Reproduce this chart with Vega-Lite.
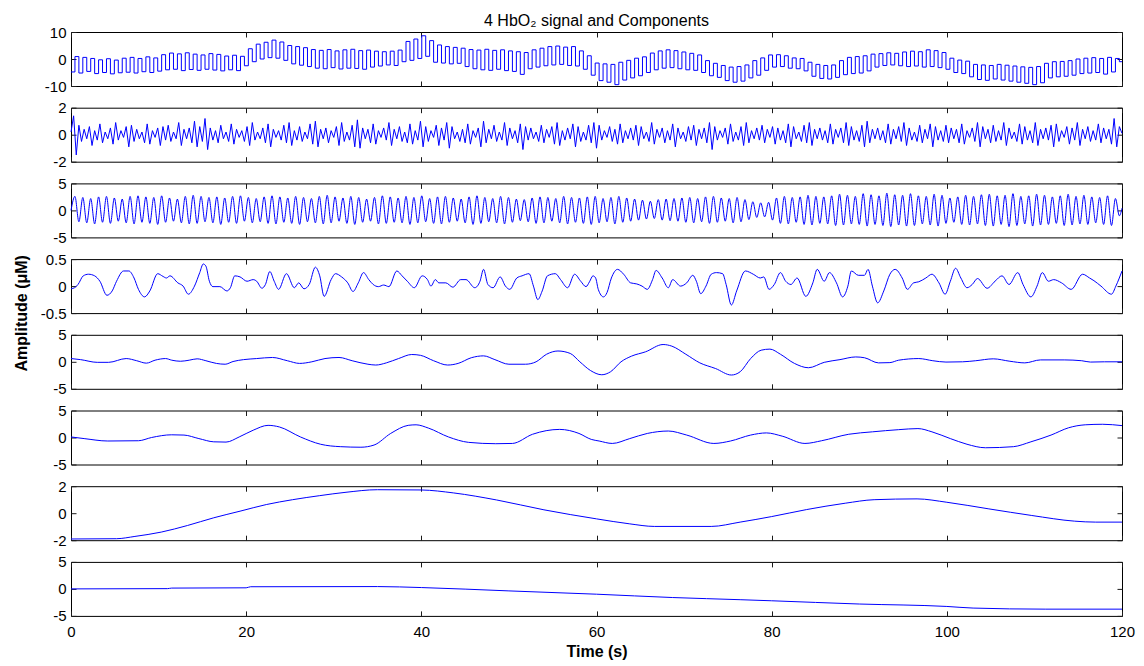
{
"$schema": "https://vega.github.io/schema/vega-lite/v6.json",
"background": "white",
"padding": {"left": 12, "top": 12, "right": 4, "bottom": 4},
"spacing": 21.7,
"bounds": "flush",
"config": {
  "view": {"stroke": "#000000", "strokeWidth": 1},
  "axis": {"domain": false, "grid": false, "tickSize": -5, "tickColor": "#1a1a1a", "tickWidth": 1, "labelFont": "Liberation Sans", "labelFontSize": 15, "labelColor": "#000000", "labelPadding": 10, "labelFlush": false, "labelOverlap": false, "titleFont": "Liberation Sans", "titleFontSize": 16, "titleFontWeight": "bold", "titleColor": "#000000"}
},
"datasets": {
"p1": [{"t":0,"v":-4.8},{"t":0.45,"v":0.9},{"t":0.9,"v":-5.2},{"t":1.35,"v":0.6},{"t":1.8,"v":-4.6},{"t":2.25,"v":0.2},{"t":2.7,"v":-5.4},{"t":3.15,"v":-0.3},{"t":3.6,"v":-5},{"t":4.05,"v":0.1},{"t":4.5,"v":-5.5},{"t":4.95,"v":-0.4},{"t":5.4,"v":-5.1},{"t":5.85,"v":0.3},{"t":6.3,"v":-4.9},{"t":6.75,"v":0.6},{"t":7.2,"v":-5.2},{"t":7.65,"v":0.2},{"t":8.1,"v":-4.7},{"t":8.55,"v":0.8},{"t":9,"v":-5},{"t":9.45,"v":0.4},{"t":9.9,"v":-4.5},{"t":10.35,"v":1.6},{"t":10.8,"v":-4},{"t":11.25,"v":2.2},{"t":11.7,"v":-3.8},{"t":12.15,"v":1.9},{"t":12.6,"v":-4.3},{"t":13.05,"v":2.3},{"t":13.5,"v":-3.9},{"t":13.95,"v":1.8},{"t":14.4,"v":-4.2},{"t":14.85,"v":1.5},{"t":15.3,"v":-3.8},{"t":15.75,"v":2},{"t":16.2,"v":-4.1},{"t":16.65,"v":1.7},{"t":17.1,"v":-4.4},{"t":17.55,"v":1.1},{"t":18,"v":-4},{"t":18.45,"v":1.4},{"t":18.9,"v":-4.3},{"t":19.35,"v":1},{"t":19.8,"v":-2.5},{"t":20.25,"v":3.8},{"t":20.7,"v":-1},{"t":21.15,"v":5.5},{"t":21.6,"v":0},{"t":22.05,"v":6.2},{"t":22.5,"v":0.5},{"t":22.95,"v":7},{"t":23.4,"v":0.3},{"t":23.85,"v":6.3},{"t":24.3,"v":-0.5},{"t":24.75,"v":5},{"t":25.2,"v":-1.8},{"t":25.65,"v":4.6},{"t":26.1,"v":-2.3},{"t":26.55,"v":4.2},{"t":27,"v":-2.8},{"t":27.45,"v":3.5},{"t":27.9,"v":-3.4},{"t":28.35,"v":3.2},{"t":28.8,"v":-3.6},{"t":29.25,"v":3.5},{"t":29.7,"v":-3.2},{"t":30.15,"v":3},{"t":30.6,"v":-3.7},{"t":31.05,"v":3.4},{"t":31.5,"v":-3.4},{"t":31.95,"v":3.6},{"t":32.4,"v":-3.5},{"t":32.85,"v":3.1},{"t":33.3,"v":-3.8},{"t":33.75,"v":3.3},{"t":34.2,"v":-3},{"t":34.65,"v":2.9},{"t":35.1,"v":-2.6},{"t":35.55,"v":2.7},{"t":36,"v":-2.2},{"t":36.45,"v":2.9},{"t":36.9,"v":-2.4},{"t":37.35,"v":3.3},{"t":37.8,"v":-1},{"t":38.25,"v":6.5},{"t":38.7,"v":-0.5},{"t":39.15,"v":7.4},{"t":39.6,"v":0.2},{"t":40.05,"v":8.6},{"t":40.5,"v":1},{"t":40.95,"v":6.8},{"t":41.4,"v":-1.2},{"t":41.85,"v":5.2},{"t":42.3,"v":-1.5},{"t":42.75,"v":4.6},{"t":43.2,"v":-1.8},{"t":43.65,"v":4.3},{"t":44.1,"v":-1.6},{"t":44.55,"v":4},{"t":45,"v":-2.8},{"t":45.45,"v":3.5},{"t":45.9,"v":-3.6},{"t":46.35,"v":3.3},{"t":46.8,"v":-4},{"t":47.25,"v":3.6},{"t":47.7,"v":-4.2},{"t":48.15,"v":3.2},{"t":48.6,"v":-3.8},{"t":49.05,"v":3.4},{"t":49.5,"v":-4.3},{"t":49.95,"v":3},{"t":50.4,"v":-4.6},{"t":50.85,"v":2.7},{"t":51.3,"v":-5.7},{"t":51.75,"v":2.4},{"t":52.2,"v":-3.6},{"t":52.65,"v":3.4},{"t":53.1,"v":-3},{"t":53.55,"v":4},{"t":54,"v":-2.5},{"t":54.45,"v":4.6},{"t":54.9,"v":-2.2},{"t":55.35,"v":4.8},{"t":55.8,"v":-2},{"t":56.25,"v":4.4},{"t":56.7,"v":-2.4},{"t":57.15,"v":4.6},{"t":57.6,"v":-2.6},{"t":58.05,"v":3},{"t":58.5,"v":-3.8},{"t":58.95,"v":1.2},{"t":59.4,"v":-6},{"t":59.85,"v":-1.5},{"t":60.3,"v":-8},{"t":60.75,"v":-1.8},{"t":61.2,"v":-8.6},{"t":61.65,"v":-2},{"t":62.1,"v":-9.5},{"t":62.55,"v":-1.2},{"t":63,"v":-7.8},{"t":63.45,"v":-0.5},{"t":63.9,"v":-7},{"t":64.35,"v":0.3},{"t":64.8,"v":-6.2},{"t":65.25,"v":0.8},{"t":65.7,"v":-5},{"t":66.15,"v":2.2},{"t":66.6,"v":-4},{"t":67.05,"v":3},{"t":67.5,"v":-3.4},{"t":67.95,"v":3.4},{"t":68.4,"v":-3.2},{"t":68.85,"v":3.1},{"t":69.3,"v":-3.6},{"t":69.75,"v":2.6},{"t":70.2,"v":-4},{"t":70.65,"v":2.1},{"t":71.1,"v":-4.2},{"t":71.55,"v":1.5},{"t":72,"v":-5},{"t":72.45,"v":-0.6},{"t":72.9,"v":-6.2},{"t":73.35,"v":-1.6},{"t":73.8,"v":-6.8},{"t":74.25,"v":-2.4},{"t":74.7,"v":-8},{"t":75.15,"v":-3},{"t":75.6,"v":-8.6},{"t":76.05,"v":-2.8},{"t":76.5,"v":-8.2},{"t":76.95,"v":-2.2},{"t":77.4,"v":-7},{"t":77.85,"v":-0.6},{"t":78.3,"v":-6},{"t":78.75,"v":0.4},{"t":79.2,"v":-4.2},{"t":79.65,"v":1.5},{"t":80.1,"v":-3},{"t":80.55,"v":1.6},{"t":81,"v":-2.8},{"t":81.45,"v":1.2},{"t":81.9,"v":-3.4},{"t":82.35,"v":0.4},{"t":82.8,"v":-3.6},{"t":83.25,"v":0.2},{"t":83.7,"v":-4.4},{"t":84.15,"v":-1.2},{"t":84.6,"v":-6.4},{"t":85.05,"v":-2},{"t":85.5,"v":-7.2},{"t":85.95,"v":-2.4},{"t":86.4,"v":-7.4},{"t":86.85,"v":-2.2},{"t":87.3,"v":-6.8},{"t":87.75,"v":-0.6},{"t":88.2,"v":-5.8},{"t":88.65,"v":0.6},{"t":89.1,"v":-5.4},{"t":89.55,"v":0.9},{"t":90,"v":-5.2},{"t":90.45,"v":1.2},{"t":90.9,"v":-4.4},{"t":91.35,"v":1.8},{"t":91.8,"v":-3},{"t":92.25,"v":2},{"t":92.7,"v":-2.4},{"t":93.15,"v":2.3},{"t":93.6,"v":-2.2},{"t":94.05,"v":2.1},{"t":94.5,"v":-2.5},{"t":94.95,"v":2.6},{"t":95.4,"v":-2.8},{"t":95.85,"v":2.9},{"t":96.3,"v":-2.6},{"t":96.75,"v":2.7},{"t":97.2,"v":-3},{"t":97.65,"v":3.4},{"t":98.1,"v":-2.8},{"t":98.55,"v":3.1},{"t":99,"v":-3.2},{"t":99.45,"v":2.4},{"t":99.9,"v":-3.8},{"t":100.35,"v":0.3},{"t":100.8,"v":-5},{"t":101.25,"v":-0.4},{"t":101.7,"v":-5.4},{"t":102.15,"v":-0.8},{"t":102.6,"v":-6.6},{"t":103.05,"v":-2},{"t":103.5,"v":-7.6},{"t":103.95,"v":-2.2},{"t":104.4,"v":-7.9},{"t":104.85,"v":-2.4},{"t":105.3,"v":-7.4},{"t":105.75,"v":-2},{"t":106.2,"v":-7.8},{"t":106.65,"v":-2.3},{"t":107.1,"v":-8.2},{"t":107.55,"v":-2.6},{"t":108,"v":-8.6},{"t":108.45,"v":-2.9},{"t":108.9,"v":-9},{"t":109.35,"v":-3.1},{"t":109.8,"v":-9.5},{"t":110.25,"v":-2.8},{"t":110.7,"v":-8.8},{"t":111.15,"v":-1.6},{"t":111.6,"v":-7},{"t":112.05,"v":-1},{"t":112.5,"v":-6.6},{"t":112.95,"v":-0.9},{"t":113.4,"v":-6.4},{"t":113.85,"v":-0.6},{"t":114.3,"v":-6},{"t":114.75,"v":0},{"t":115.2,"v":-5.4},{"t":115.65,"v":0.3},{"t":116.1,"v":-5.2},{"t":116.55,"v":0.5},{"t":117,"v":-5},{"t":117.45,"v":0.2},{"t":117.9,"v":-5.6},{"t":118.35,"v":0.6},{"t":118.8,"v":-4.8},{"t":119.25,"v":0.2},{"t":119.7,"v":-1},{"t":120,"v":-1}],
"p2": [{"t":0,"v":0.2},{"t":0.3,"v":1.4},{"t":0.6,"v":-1.5},{"t":0.9,"v":0.7},{"t":1.2,"v":-0.5},{"t":1.5,"v":0.4},{"t":1.8,"v":-0.3},{"t":2.1,"v":0.6},{"t":2.4,"v":-0.8},{"t":2.7,"v":0.3},{"t":3,"v":-0.4},{"t":3.3,"v":0.8},{"t":3.6,"v":-0.6},{"t":3.9,"v":0.2},{"t":4.2,"v":-0.3},{"t":4.5,"v":0.5},{"t":4.8,"v":-0.7},{"t":5.1,"v":0.9},{"t":5.4,"v":-0.4},{"t":5.7,"v":0.3},{"t":6,"v":-0.2},{"t":6.3,"v":0.6},{"t":6.6,"v":-0.9},{"t":6.9,"v":0.7},{"t":7.2,"v":-0.5},{"t":7.5,"v":0.4},{"t":7.8,"v":-0.3},{"t":8.1,"v":0.2},{"t":8.4,"v":-0.6},{"t":8.7,"v":0.8},{"t":9,"v":-0.7},{"t":9.3,"v":0.3},{"t":9.6,"v":-0.2},{"t":9.9,"v":0.5},{"t":10.2,"v":-0.8},{"t":10.5,"v":0.6},{"t":10.8,"v":-0.4},{"t":11.1,"v":0.7},{"t":11.4,"v":-0.5},{"t":11.7,"v":0.2},{"t":12,"v":-0.3},{"t":12.3,"v":0.9},{"t":12.6,"v":-0.8},{"t":12.9,"v":0.4},{"t":13.2,"v":-0.3},{"t":13.5,"v":0.5},{"t":13.8,"v":-0.6},{"t":14.1,"v":1},{"t":14.4,"v":-0.9},{"t":14.7,"v":0.6},{"t":15,"v":-0.5},{"t":15.3,"v":1.2},{"t":15.6,"v":-1.1},{"t":15.9,"v":0.5},{"t":16.2,"v":-0.4},{"t":16.5,"v":0.3},{"t":16.8,"v":-0.6},{"t":17.1,"v":0.7},{"t":17.4,"v":-0.3},{"t":17.7,"v":0.2},{"t":18,"v":-0.5},{"t":18.3,"v":0.8},{"t":18.6,"v":-0.7},{"t":18.9,"v":0.4},{"t":19.2,"v":-0.2},{"t":19.5,"v":0.3},{"t":19.8,"v":-0.5},{"t":20.1,"v":0.6},{"t":20.4,"v":-0.8},{"t":20.7,"v":0.9},{"t":21,"v":-0.4},{"t":21.3,"v":0.2},{"t":21.6,"v":-0.3},{"t":21.9,"v":0.5},{"t":22.2,"v":-0.6},{"t":22.5,"v":0.8},{"t":22.8,"v":-0.9},{"t":23.1,"v":0.4},{"t":23.4,"v":-0.2},{"t":23.7,"v":0.3},{"t":24,"v":-0.4},{"t":24.3,"v":0.7},{"t":24.6,"v":-0.6},{"t":24.9,"v":0.9},{"t":25.2,"v":-0.8},{"t":25.5,"v":0.3},{"t":25.8,"v":-0.4},{"t":26.1,"v":0.6},{"t":26.4,"v":-0.5},{"t":26.7,"v":0.2},{"t":27,"v":-0.3},{"t":27.3,"v":0.8},{"t":27.6,"v":-0.7},{"t":27.9,"v":1},{"t":28.2,"v":-0.9},{"t":28.5,"v":0.4},{"t":28.8,"v":-0.3},{"t":29.1,"v":0.5},{"t":29.4,"v":-0.6},{"t":29.7,"v":0.3},{"t":30,"v":-0.2},{"t":30.3,"v":0.6},{"t":30.6,"v":-0.8},{"t":30.9,"v":0.9},{"t":31.2,"v":-0.5},{"t":31.5,"v":0.2},{"t":31.8,"v":-0.4},{"t":32.1,"v":0.7},{"t":32.4,"v":-0.9},{"t":32.7,"v":1.1},{"t":33,"v":-1},{"t":33.3,"v":0.5},{"t":33.6,"v":-0.3},{"t":33.9,"v":0.4},{"t":34.2,"v":-0.6},{"t":34.5,"v":0.8},{"t":34.8,"v":-0.7},{"t":35.1,"v":0.3},{"t":35.4,"v":-0.2},{"t":35.7,"v":0.5},{"t":36,"v":-0.4},{"t":36.3,"v":0.9},{"t":36.6,"v":-0.8},{"t":36.9,"v":0.4},{"t":37.2,"v":-0.3},{"t":37.5,"v":0.6},{"t":37.8,"v":-0.5},{"t":38.1,"v":0.2},{"t":38.4,"v":-0.6},{"t":38.7,"v":0.8},{"t":39,"v":-0.7},{"t":39.3,"v":0.3},{"t":39.6,"v":-0.4},{"t":39.9,"v":1},{"t":40.2,"v":-0.9},{"t":40.5,"v":0.6},{"t":40.8,"v":-0.5},{"t":41.1,"v":0.3},{"t":41.4,"v":-0.2},{"t":41.7,"v":0.7},{"t":42,"v":-0.8},{"t":42.3,"v":0.5},{"t":42.6,"v":-0.4},{"t":42.9,"v":0.9},{"t":43.2,"v":-1},{"t":43.5,"v":0.6},{"t":43.8,"v":-0.3},{"t":44.1,"v":0.2},{"t":44.4,"v":-0.5},{"t":44.7,"v":0.4},{"t":45,"v":-0.6},{"t":45.3,"v":0.8},{"t":45.6,"v":-0.7},{"t":45.9,"v":0.3},{"t":46.2,"v":-0.2},{"t":46.5,"v":0.5},{"t":46.8,"v":-0.9},{"t":47.1,"v":1},{"t":47.4,"v":-0.6},{"t":47.7,"v":0.4},{"t":48,"v":-0.3},{"t":48.3,"v":0.7},{"t":48.6,"v":-0.5},{"t":48.9,"v":0.2},{"t":49.2,"v":-0.4},{"t":49.5,"v":0.9},{"t":49.8,"v":-0.8},{"t":50.1,"v":0.5},{"t":50.4,"v":-0.3},{"t":50.7,"v":0.3},{"t":51,"v":-0.6},{"t":51.3,"v":0.8},{"t":51.6,"v":-1.1},{"t":51.9,"v":0.6},{"t":52.2,"v":-0.4},{"t":52.5,"v":0.5},{"t":52.8,"v":-0.3},{"t":53.1,"v":0.2},{"t":53.4,"v":-0.5},{"t":53.7,"v":0.7},{"t":54,"v":-0.6},{"t":54.3,"v":0.4},{"t":54.6,"v":-0.2},{"t":54.9,"v":0.6},{"t":55.2,"v":-0.7},{"t":55.5,"v":0.9},{"t":55.8,"v":-0.8},{"t":56.1,"v":0.3},{"t":56.4,"v":-0.4},{"t":56.7,"v":0.5},{"t":57,"v":-0.3},{"t":57.3,"v":0.8},{"t":57.6,"v":-0.9},{"t":57.9,"v":0.6},{"t":58.2,"v":-0.5},{"t":58.5,"v":0.2},{"t":58.8,"v":-0.4},{"t":59.1,"v":0.7},{"t":59.4,"v":-0.6},{"t":59.7,"v":0.9},{"t":60,"v":-1},{"t":60.3,"v":0.7},{"t":60.6,"v":-0.4},{"t":60.9,"v":0.3},{"t":61.2,"v":-0.2},{"t":61.5,"v":0.6},{"t":61.8,"v":-0.5},{"t":62.1,"v":0.4},{"t":62.4,"v":-0.7},{"t":62.7,"v":0.8},{"t":63,"v":-0.6},{"t":63.3,"v":0.3},{"t":63.6,"v":-0.3},{"t":63.9,"v":0.5},{"t":64.2,"v":-0.4},{"t":64.5,"v":0.7},{"t":64.8,"v":-0.8},{"t":65.1,"v":0.6},{"t":65.4,"v":-0.3},{"t":65.7,"v":0.2},{"t":66,"v":-0.5},{"t":66.3,"v":0.9},{"t":66.6,"v":-0.7},{"t":66.9,"v":0.4},{"t":67.2,"v":-0.2},{"t":67.5,"v":0.5},{"t":67.8,"v":-0.6},{"t":68.1,"v":0.3},{"t":68.4,"v":-0.4},{"t":68.7,"v":0.8},{"t":69,"v":-0.9},{"t":69.3,"v":0.5},{"t":69.6,"v":-0.3},{"t":69.9,"v":0.2},{"t":70.2,"v":-0.5},{"t":70.5,"v":0.6},{"t":70.8,"v":-0.4},{"t":71.1,"v":0.7},{"t":71.4,"v":-0.8},{"t":71.7,"v":0.4},{"t":72,"v":-0.3},{"t":72.3,"v":0.5},{"t":72.6,"v":-0.6},{"t":72.9,"v":0.9},{"t":73.2,"v":-1.1},{"t":73.5,"v":0.6},{"t":73.8,"v":-0.4},{"t":74.1,"v":0.3},{"t":74.4,"v":-0.2},{"t":74.7,"v":0.5},{"t":75,"v":-0.7},{"t":75.3,"v":0.8},{"t":75.6,"v":-0.5},{"t":75.9,"v":0.2},{"t":76.2,"v":-0.4},{"t":76.5,"v":0.6},{"t":76.8,"v":-0.8},{"t":77.1,"v":0.9},{"t":77.4,"v":-0.6},{"t":77.7,"v":0.3},{"t":78,"v":-0.3},{"t":78.3,"v":0.5},{"t":78.6,"v":-0.4},{"t":78.9,"v":0.7},{"t":79.2,"v":-0.6},{"t":79.5,"v":0.4},{"t":79.8,"v":-0.2},{"t":80.1,"v":0.6},{"t":80.4,"v":-0.7},{"t":80.7,"v":0.5},{"t":81,"v":-0.4},{"t":81.3,"v":0.3},{"t":81.6,"v":-0.6},{"t":81.9,"v":0.8},{"t":82.2,"v":-0.9},{"t":82.5,"v":0.6},{"t":82.8,"v":-0.3},{"t":83.1,"v":0.2},{"t":83.4,"v":-0.5},{"t":83.7,"v":0.7},{"t":84,"v":-0.6},{"t":84.3,"v":0.9},{"t":84.6,"v":-0.8},{"t":84.9,"v":0.4},{"t":85.2,"v":-0.3},{"t":85.5,"v":0.5},{"t":85.8,"v":-0.4},{"t":86.1,"v":0.3},{"t":86.4,"v":-0.6},{"t":86.7,"v":0.8},{"t":87,"v":-0.7},{"t":87.3,"v":0.4},{"t":87.6,"v":-0.2},{"t":87.9,"v":0.5},{"t":88.2,"v":-0.6},{"t":88.5,"v":0.9},{"t":88.8,"v":-0.8},{"t":89.1,"v":0.6},{"t":89.4,"v":-0.4},{"t":89.7,"v":0.3},{"t":90,"v":-0.5},{"t":90.3,"v":0.7},{"t":90.6,"v":-0.9},{"t":90.9,"v":1},{"t":91.2,"v":-0.6},{"t":91.5,"v":0.4},{"t":91.8,"v":-0.3},{"t":92.1,"v":0.5},{"t":92.4,"v":-0.4},{"t":92.7,"v":0.3},{"t":93,"v":-0.6},{"t":93.3,"v":0.8},{"t":93.6,"v":-0.7},{"t":93.9,"v":0.4},{"t":94.2,"v":-0.3},{"t":94.5,"v":0.6},{"t":94.8,"v":-0.5},{"t":95.1,"v":0.9},{"t":95.4,"v":-0.8},{"t":95.7,"v":0.5},{"t":96,"v":-0.4},{"t":96.3,"v":0.2},{"t":96.6,"v":-0.5},{"t":96.9,"v":0.7},{"t":97.2,"v":-0.6},{"t":97.5,"v":0.4},{"t":97.8,"v":-0.3},{"t":98.1,"v":0.8},{"t":98.4,"v":-0.9},{"t":98.7,"v":0.6},{"t":99,"v":-0.4},{"t":99.3,"v":0.3},{"t":99.6,"v":-0.5},{"t":99.9,"v":0.7},{"t":100.2,"v":-0.6},{"t":100.5,"v":0.5},{"t":100.8,"v":-0.3},{"t":101.1,"v":0.4},{"t":101.4,"v":-0.6},{"t":101.7,"v":0.8},{"t":102,"v":-0.7},{"t":102.3,"v":0.3},{"t":102.6,"v":-0.2},{"t":102.9,"v":0.5},{"t":103.2,"v":-0.5},{"t":103.5,"v":0.9},{"t":103.8,"v":-0.9},{"t":104.1,"v":0.6},{"t":104.4,"v":-0.3},{"t":104.7,"v":0.4},{"t":105,"v":-0.6},{"t":105.3,"v":0.7},{"t":105.6,"v":-0.5},{"t":105.9,"v":0.3},{"t":106.2,"v":-0.4},{"t":106.5,"v":0.9},{"t":106.8,"v":-0.8},{"t":107.1,"v":0.5},{"t":107.4,"v":-0.3},{"t":107.7,"v":0.2},{"t":108,"v":-0.5},{"t":108.3,"v":0.8},{"t":108.6,"v":-0.7},{"t":108.9,"v":0.6},{"t":109.2,"v":-0.4},{"t":109.5,"v":0.3},{"t":109.8,"v":-0.6},{"t":110.1,"v":0.9},{"t":110.4,"v":-0.8},{"t":110.7,"v":0.4},{"t":111,"v":-0.3},{"t":111.3,"v":0.5},{"t":111.6,"v":-0.4},{"t":111.9,"v":0.7},{"t":112.2,"v":-0.9},{"t":112.5,"v":0.8},{"t":112.8,"v":-0.5},{"t":113.1,"v":0.3},{"t":113.4,"v":-0.2},{"t":113.7,"v":0.6},{"t":114,"v":-0.7},{"t":114.3,"v":0.5},{"t":114.6,"v":-0.4},{"t":114.9,"v":0.9},{"t":115.2,"v":-0.8},{"t":115.5,"v":0.4},{"t":115.8,"v":-0.3},{"t":116.1,"v":0.6},{"t":116.4,"v":-0.5},{"t":116.7,"v":0.3},{"t":117,"v":-0.4},{"t":117.3,"v":0.8},{"t":117.6,"v":-0.6},{"t":117.9,"v":0.5},{"t":118.2,"v":-0.3},{"t":118.5,"v":0.4},{"t":118.8,"v":-0.7},{"t":119.1,"v":1.2},{"t":119.4,"v":-0.9},{"t":119.7,"v":0.6},{"t":120,"v":0.1}],
"p3": [{"t":0,"v":0},{"t":0.45,"v":2.6},{"t":0.9,"v":-2.1},{"t":1.35,"v":2.4},{"t":1.8,"v":-2.3},{"t":2.25,"v":2.2},{"t":2.7,"v":-2.5},{"t":3.15,"v":2.5},{"t":3.6,"v":-2.2},{"t":4.05,"v":2.6},{"t":4.5,"v":-2.4},{"t":4.95,"v":2.3},{"t":5.4,"v":-2},{"t":5.85,"v":2.1},{"t":6.3,"v":-2.3},{"t":6.75,"v":2.6},{"t":7.2,"v":-2.5},{"t":7.65,"v":2.7},{"t":8.1,"v":-2.2},{"t":8.55,"v":2.5},{"t":9,"v":-2.4},{"t":9.45,"v":2.4},{"t":9.9,"v":-2.6},{"t":10.35,"v":2.7},{"t":10.8,"v":-2.2},{"t":11.25,"v":2.3},{"t":11.7,"v":-2},{"t":12.15,"v":2.1},{"t":12.6,"v":-2.3},{"t":13.05,"v":2.6},{"t":13.5,"v":-2.5},{"t":13.95,"v":2.8},{"t":14.4,"v":-2.4},{"t":14.85,"v":2.6},{"t":15.3,"v":-2.1},{"t":15.75,"v":2.4},{"t":16.2,"v":-2.3},{"t":16.65,"v":2.5},{"t":17.1,"v":-2.6},{"t":17.55,"v":2.3},{"t":18,"v":-2.2},{"t":18.45,"v":2.6},{"t":18.9,"v":-2.4},{"t":19.35,"v":2.7},{"t":19.8,"v":-2},{"t":20.25,"v":2.4},{"t":20.7,"v":-2.3},{"t":21.15,"v":2.2},{"t":21.6,"v":-2.1},{"t":22.05,"v":2.5},{"t":22.5,"v":-2.4},{"t":22.95,"v":2.7},{"t":23.4,"v":-2.5},{"t":23.85,"v":2.5},{"t":24.3,"v":-2.2},{"t":24.75,"v":2.3},{"t":25.2,"v":-2.4},{"t":25.65,"v":2.6},{"t":26.1,"v":-2.6},{"t":26.55,"v":2.4},{"t":27,"v":-2.1},{"t":27.45,"v":2.2},{"t":27.9,"v":-2.3},{"t":28.35,"v":2.6},{"t":28.8,"v":-2.5},{"t":29.25,"v":2.8},{"t":29.7,"v":-2.3},{"t":30.15,"v":2.5},{"t":30.6,"v":-2},{"t":31.05,"v":2.3},{"t":31.5,"v":-2.4},{"t":31.95,"v":2.6},{"t":32.4,"v":-2.6},{"t":32.85,"v":2.4},{"t":33.3,"v":-2.2},{"t":33.75,"v":2.1},{"t":34.2,"v":-2},{"t":34.65,"v":2.4},{"t":35.1,"v":-2.5},{"t":35.55,"v":2.7},{"t":36,"v":-2.4},{"t":36.45,"v":2.5},{"t":36.9,"v":-2.2},{"t":37.35,"v":2.3},{"t":37.8,"v":-2.3},{"t":38.25,"v":2.6},{"t":38.7,"v":-2.6},{"t":39.15,"v":2.4},{"t":39.6,"v":-2.3},{"t":40.05,"v":2.7},{"t":40.5,"v":-2.1},{"t":40.95,"v":2.2},{"t":41.4,"v":-2.4},{"t":41.85,"v":2.5},{"t":42.3,"v":-2.5},{"t":42.75,"v":2.6},{"t":43.2,"v":-2.2},{"t":43.65,"v":2.3},{"t":44.1,"v":-2},{"t":44.55,"v":2.1},{"t":45,"v":-2.3},{"t":45.45,"v":2.5},{"t":45.9,"v":-2.6},{"t":46.35,"v":2.7},{"t":46.8,"v":-2.4},{"t":47.25,"v":2.4},{"t":47.7,"v":-2.1},{"t":48.15,"v":2.2},{"t":48.6,"v":-2.3},{"t":49.05,"v":2.6},{"t":49.5,"v":-2.5},{"t":49.95,"v":2.4},{"t":50.4,"v":-2.2},{"t":50.85,"v":2.1},{"t":51.3,"v":-1.9},{"t":51.75,"v":2},{"t":52.2,"v":-2.1},{"t":52.65,"v":2.3},{"t":53.1,"v":-2.4},{"t":53.55,"v":2.5},{"t":54,"v":-2.3},{"t":54.45,"v":2.4},{"t":54.9,"v":-2},{"t":55.35,"v":2.2},{"t":55.8,"v":-2.3},{"t":56.25,"v":2.6},{"t":56.7,"v":-2.5},{"t":57.15,"v":2.4},{"t":57.6,"v":-2.2},{"t":58.05,"v":2.3},{"t":58.5,"v":-2.4},{"t":58.95,"v":2.5},{"t":59.4,"v":-2.6},{"t":59.85,"v":2.6},{"t":60.3,"v":-2.3},{"t":60.75,"v":2.2},{"t":61.2,"v":-2.1},{"t":61.65,"v":2.4},{"t":62.1,"v":-2.5},{"t":62.55,"v":2.6},{"t":63,"v":-2.2},{"t":63.45,"v":2.3},{"t":63.9,"v":-2},{"t":64.35,"v":2.1},{"t":64.8,"v":-1.8},{"t":65.25,"v":1.9},{"t":65.7,"v":-1.6},{"t":66.15,"v":1.7},{"t":66.6,"v":-1.5},{"t":67.05,"v":2},{"t":67.5,"v":-1.8},{"t":67.95,"v":2.1},{"t":68.4,"v":-1.9},{"t":68.85,"v":2.2},{"t":69.3,"v":-2},{"t":69.75,"v":2.3},{"t":70.2,"v":-2.2},{"t":70.65,"v":2.4},{"t":71.1,"v":-2.3},{"t":71.55,"v":2.2},{"t":72,"v":-2.1},{"t":72.45,"v":2.5},{"t":72.9,"v":-2.4},{"t":73.35,"v":2.6},{"t":73.8,"v":-2.2},{"t":74.25,"v":2.3},{"t":74.7,"v":-2},{"t":75.15,"v":2.2},{"t":75.6,"v":-2.3},{"t":76.05,"v":2.4},{"t":76.5,"v":-2.1},{"t":76.95,"v":2},{"t":77.4,"v":-1.7},{"t":77.85,"v":1.6},{"t":78.3,"v":-1.3},{"t":78.75,"v":1.4},{"t":79.2,"v":-1.2},{"t":79.65,"v":1.5},{"t":80.1,"v":-1.8},{"t":80.55,"v":2.3},{"t":81,"v":-2.4},{"t":81.45,"v":2.6},{"t":81.9,"v":-2.5},{"t":82.35,"v":2.4},{"t":82.8,"v":-2.2},{"t":83.25,"v":2.5},{"t":83.7,"v":-2.6},{"t":84.15,"v":2.8},{"t":84.6,"v":-2.7},{"t":85.05,"v":2.6},{"t":85.5,"v":-2.4},{"t":85.95,"v":2.5},{"t":86.4,"v":-2.5},{"t":86.85,"v":2.7},{"t":87.3,"v":-2.8},{"t":87.75,"v":3},{"t":88.2,"v":-2.7},{"t":88.65,"v":2.8},{"t":89.1,"v":-2.5},{"t":89.55,"v":2.6},{"t":90,"v":-2.6},{"t":90.45,"v":3.1},{"t":90.9,"v":-2.9},{"t":91.35,"v":2.9},{"t":91.8,"v":-2.6},{"t":92.25,"v":2.7},{"t":92.7,"v":-2.8},{"t":93.15,"v":3.2},{"t":93.6,"v":-3},{"t":94.05,"v":2.9},{"t":94.5,"v":-2.7},{"t":94.95,"v":2.8},{"t":95.4,"v":-2.9},{"t":95.85,"v":3.1},{"t":96.3,"v":-2.8},{"t":96.75,"v":2.7},{"t":97.2,"v":-2.5},{"t":97.65,"v":2.6},{"t":98.1,"v":-2.7},{"t":98.55,"v":3},{"t":99,"v":-2.9},{"t":99.45,"v":2.8},{"t":99.9,"v":-2.4},{"t":100.35,"v":2.3},{"t":100.8,"v":-2.2},{"t":101.25,"v":2.5},{"t":101.7,"v":-2.6},{"t":102.15,"v":2.8},{"t":102.6,"v":-2.7},{"t":103.05,"v":2.6},{"t":103.5,"v":-2.5},{"t":103.95,"v":2.9},{"t":104.4,"v":-2.8},{"t":104.85,"v":3},{"t":105.3,"v":-2.9},{"t":105.75,"v":2.7},{"t":106.2,"v":-2.6},{"t":106.65,"v":2.8},{"t":107.1,"v":-3},{"t":107.55,"v":3.1},{"t":108,"v":-2.8},{"t":108.45,"v":2.6},{"t":108.9,"v":-2.5},{"t":109.35,"v":2.7},{"t":109.8,"v":-2.9},{"t":110.25,"v":3},{"t":110.7,"v":-2.7},{"t":111.15,"v":2.8},{"t":111.6,"v":-2.6},{"t":112.05,"v":2.5},{"t":112.5,"v":-2.4},{"t":112.95,"v":2.7},{"t":113.4,"v":-2.8},{"t":113.85,"v":3},{"t":114.3,"v":-2.7},{"t":114.75,"v":2.6},{"t":115.2,"v":-2.5},{"t":115.65,"v":2.8},{"t":116.1,"v":-2.6},{"t":116.55,"v":2.5},{"t":117,"v":-2.3},{"t":117.45,"v":2.4},{"t":117.9,"v":-2.6},{"t":118.35,"v":2.7},{"t":118.8,"v":-2.8},{"t":119.25,"v":2.2},{"t":119.7,"v":-1},{"t":120,"v":0.4}],
"p4": [{"t":0,"v":-0.05},{"t":0.4,"v":-0.03},{"t":0.8,"v":0.03},{"t":1.4,"v":0.19},{"t":2,"v":0.22},{"t":2.7,"v":0.19},{"t":3.3,"v":0.09},{"t":4.1,"v":-0.17},{"t":4.7,"v":-0.09},{"t":5.2,"v":0.09},{"t":6,"v":0.28},{"t":6.6,"v":0.28},{"t":7.2,"v":0.15},{"t":7.7,"v":-0.06},{"t":8.4,"v":-0.2},{"t":9,"v":-0.09},{"t":9.9,"v":0.23},{"t":10.5,"v":0.18},{"t":10.9,"v":0.15},{"t":11.3,"v":0.19},{"t":12.2,"v":0.06},{"t":12.8,"v":0},{"t":13.4,"v":-0.15},{"t":14.1,"v":0},{"t":14.7,"v":0.25},{"t":15.1,"v":0.41},{"t":15.4,"v":0.37},{"t":15.8,"v":0.09},{"t":16.2,"v":-0.01},{"t":17,"v":-0.01},{"t":17.8,"v":-0.09},{"t":18.2,"v":-0.03},{"t":18.7,"v":0.19},{"t":19.3,"v":0.17},{"t":20.1,"v":0.09},{"t":20.8,"v":0.12},{"t":21.2,"v":0.09},{"t":21.8,"v":-0.04},{"t":22.2,"v":0.03},{"t":22.7,"v":0.27},{"t":23.2,"v":0.09},{"t":23.7,"v":-0.06},{"t":24.6,"v":0.23},{"t":25.5,"v":-0.03},{"t":26,"v":0.06},{"t":26.6,"v":-0.05},{"t":27.2,"v":0.03},{"t":27.9,"v":0.35},{"t":28.4,"v":0.19},{"t":28.9,"v":-0.19},{"t":29.7,"v":0.12},{"t":30.2,"v":0.23},{"t":30.9,"v":0.17},{"t":31.6,"v":0.06},{"t":32.2,"v":-0.1},{"t":32.8,"v":0.06},{"t":33.4,"v":0.25},{"t":34,"v":0.12},{"t":34.5,"v":0.03},{"t":35.1,"v":-0.01},{"t":35.7,"v":0.02},{"t":36.3,"v":-0.01},{"t":37.2,"v":0.28},{"t":37.8,"v":0.19},{"t":38.4,"v":0.09},{"t":39.2,"v":-0.03},{"t":40.1,"v":0.19},{"t":40.7,"v":0.12},{"t":41.1,"v":0},{"t":41.6,"v":0.12},{"t":42,"v":0.06},{"t":42.8,"v":0.06},{"t":43.6,"v":-0.02},{"t":44.5,"v":0.12},{"t":45.1,"v":0.12},{"t":46.1,"v":-0.03},{"t":46.7,"v":0.09},{"t":47.1,"v":0.31},{"t":47.6,"v":0.03},{"t":48.2,"v":-0.03},{"t":49,"v":0.17},{"t":49.6,"v":0},{"t":50.1,"v":-0.06},{"t":50.9,"v":0.15},{"t":51.5,"v":0.19},{"t":52.3,"v":0.23},{"t":52.8,"v":0},{"t":53.3,"v":-0.25},{"t":53.8,"v":-0.09},{"t":54.4,"v":0.19},{"t":55.3,"v":0.23},{"t":55.9,"v":0.12},{"t":56.7,"v":-0.03},{"t":57.5,"v":0.22},{"t":58.2,"v":0.09},{"t":58.8,"v":-0.01},{"t":59.2,"v":0.08},{"t":59.6,"v":0.19},{"t":59.9,"v":0.15},{"t":60.2,"v":-0.06},{"t":60.8,"v":-0.2},{"t":61.2,"v":-0.12},{"t":61.7,"v":0.15},{"t":62.4,"v":0.31},{"t":63.1,"v":0.22},{"t":63.9,"v":0.06},{"t":64.6,"v":0.04},{"t":65.2,"v":0},{"t":65.8,"v":-0.06},{"t":66.4,"v":0.12},{"t":66.8,"v":0.29},{"t":67.5,"v":0.15},{"t":68.2,"v":-0.03},{"t":68.7,"v":0.12},{"t":69.6,"v":0},{"t":70.3,"v":0.06},{"t":71,"v":0.2},{"t":71.4,"v":0.09},{"t":71.9,"v":-0.14},{"t":72.5,"v":0},{"t":73.1,"v":0.22},{"t":73.7,"v":0.25},{"t":74.4,"v":0.23},{"t":74.8,"v":0.03},{"t":75.4,"v":-0.35},{"t":76,"v":-0.09},{"t":77,"v":0.28},{"t":77.9,"v":0.22},{"t":78.7,"v":0.15},{"t":79.1,"v":0.17},{"t":79.7,"v":-0.06},{"t":80.3,"v":0.03},{"t":81,"v":0.25},{"t":81.6,"v":0.09},{"t":82.2,"v":0.03},{"t":82.9,"v":0.15},{"t":83.9,"v":-0.19},{"t":84.7,"v":0.06},{"t":85.2,"v":0.31},{"t":86,"v":0.09},{"t":86.6,"v":0.25},{"t":87.4,"v":0.06},{"t":88.1,"v":-0.2},{"t":88.7,"v":0},{"t":89.1,"v":0.28},{"t":89.9,"v":0.2},{"t":90.6,"v":0.2},{"t":91,"v":0.31},{"t":91.5,"v":0},{"t":92.1,"v":-0.31},{"t":92.8,"v":-0.09},{"t":93.5,"v":0.22},{"t":94.1,"v":0.31},{"t":94.9,"v":0.15},{"t":95.5,"v":-0.06},{"t":96.2,"v":0.06},{"t":96.8,"v":0.08},{"t":97.6,"v":0.15},{"t":98.3,"v":0.22},{"t":99.1,"v":0.06},{"t":99.8,"v":-0.15},{"t":100.4,"v":0.09},{"t":101,"v":0.33},{"t":101.6,"v":0.15},{"t":102.3,"v":-0.03},{"t":102.9,"v":0.03},{"t":103.5,"v":0.14},{"t":104.6,"v":-0.04},{"t":105.5,"v":0.09},{"t":106.3,"v":0.19},{"t":107.1,"v":0.03},{"t":108.1,"v":0.25},{"t":108.7,"v":0.03},{"t":109.6,"v":-0.2},{"t":110.3,"v":0},{"t":110.9,"v":0.25},{"t":111.6,"v":0.09},{"t":112.2,"v":0.12},{"t":113.1,"v":0.06},{"t":114.2,"v":-0.06},{"t":115.5,"v":0.22},{"t":116.3,"v":0.15},{"t":116.8,"v":0.1},{"t":117.6,"v":0},{"t":118.8,"v":-0.15},{"t":119.3,"v":0},{"t":120,"v":0.28}],
"p5": [{"t":0,"v":0.6},{"t":1.1,"v":0.4},{"t":3,"v":-0.1},{"t":4.3,"v":-0.1},{"t":6.3,"v":0.6},{"t":7.5,"v":0.2},{"t":8.6,"v":-0.25},{"t":9.6,"v":0.3},{"t":10.8,"v":0.6},{"t":11.5,"v":0.3},{"t":12.5,"v":0.1},{"t":13.5,"v":0.3},{"t":14.4,"v":0.55},{"t":15.4,"v":0.2},{"t":16.6,"v":-0.3},{"t":17.6,"v":-0.45},{"t":18.5,"v":0.05},{"t":19.7,"v":0.4},{"t":21.2,"v":0.6},{"t":23,"v":0.8},{"t":24.7,"v":0.2},{"t":26.1,"v":-0.3},{"t":27.5,"v":0},{"t":29,"v":0.6},{"t":30.6,"v":0.8},{"t":32.1,"v":0.2},{"t":33.9,"v":-0.45},{"t":34.8,"v":-0.6},{"t":36,"v":-0.2},{"t":37.4,"v":0.6},{"t":38.9,"v":1.35},{"t":39.9,"v":1.2},{"t":41.4,"v":0.2},{"t":43,"v":-0.6},{"t":44.2,"v":-0.3},{"t":45.7,"v":0.75},{"t":47.1,"v":1.1},{"t":48.4,"v":0.4},{"t":50,"v":-0.45},{"t":51.9,"v":-0.45},{"t":53.1,"v":0},{"t":54.3,"v":1.4},{"t":55.6,"v":2},{"t":57,"v":1.55},{"t":58.1,"v":0},{"t":59.3,"v":-1.6},{"t":60.6,"v":-2.4},{"t":61.6,"v":-1.85},{"t":62.8,"v":0},{"t":64,"v":1.05},{"t":65.6,"v":1.85},{"t":67.6,"v":3.2},{"t":68.6,"v":2.9},{"t":70.2,"v":1.4},{"t":71.8,"v":-0.2},{"t":73.6,"v":-1.25},{"t":75.4,"v":-2.45},{"t":76.4,"v":-1.85},{"t":77.6,"v":0.6},{"t":78.8,"v":2.15},{"t":79.8,"v":2.35},{"t":81,"v":1.4},{"t":82.6,"v":-0.3},{"t":84.2,"v":-1.1},{"t":86,"v":-0.1},{"t":87.8,"v":0.4},{"t":89.6,"v":0.9},{"t":90.6,"v":0.75},{"t":92.2,"v":-0.2},{"t":93.5,"v":-0.15},{"t":94.5,"v":0.3},{"t":96.8,"v":0.6},{"t":98.4,"v":0.2},{"t":99.9,"v":-0.05},{"t":101.8,"v":0},{"t":103.3,"v":0.2},{"t":105.3,"v":0.55},{"t":107.2,"v":0.1},{"t":108.9,"v":-0.2},{"t":110.7,"v":0.35},{"t":113.4,"v":0.35},{"t":115.4,"v":0.2},{"t":116.4,"v":-0.05},{"t":118,"v":0},{"t":120,"v":0}],
"p6": [{"t":0,"v":0.1},{"t":1.5,"v":-0.2},{"t":4.2,"v":-0.65},{"t":7.7,"v":-0.6},{"t":9.2,"v":0},{"t":11.5,"v":0.5},{"t":12.9,"v":0.45},{"t":14.6,"v":-0.2},{"t":16.3,"v":-0.8},{"t":17.7,"v":-0.85},{"t":19.2,"v":0.1},{"t":20.8,"v":1.35},{"t":22.5,"v":2.25},{"t":23.8,"v":1.95},{"t":26.2,"v":0.1},{"t":28.5,"v":-1.25},{"t":30.8,"v":-1.7},{"t":33.1,"v":-1.8},{"t":34.6,"v":-1.4},{"t":36.5,"v":0.75},{"t":38.5,"v":2.25},{"t":39.4,"v":2.35},{"t":40.8,"v":1.75},{"t":43.1,"v":0.1},{"t":45.4,"v":-0.9},{"t":48.5,"v":-1.15},{"t":50.4,"v":-1.1},{"t":52.7,"v":0.6},{"t":55.8,"v":1.5},{"t":58,"v":0.75},{"t":59.4,"v":-0.35},{"t":60.3,"v":-0.65},{"t":61.8,"v":-1.1},{"t":63.8,"v":-0.2},{"t":65.8,"v":0.75},{"t":68.2,"v":1.2},{"t":70.3,"v":0.45},{"t":73.4,"v":-1.1},{"t":75.3,"v":-0.65},{"t":77.6,"v":0.45},{"t":79.4,"v":0.85},{"t":81.2,"v":0.25},{"t":83.8,"v":-1.1},{"t":85.7,"v":-0.6},{"t":88.8,"v":0.6},{"t":91.5,"v":1.05},{"t":94.5,"v":1.45},{"t":96.7,"v":1.65},{"t":98.3,"v":1.05},{"t":100.4,"v":-0.2},{"t":102.3,"v":-1.25},{"t":104.4,"v":-1.9},{"t":107.6,"v":-1.7},{"t":109.6,"v":-0.8},{"t":111.9,"v":0.45},{"t":113.9,"v":1.8},{"t":115.8,"v":2.35},{"t":117.8,"v":2.45},{"t":120,"v":2.2}],
"p7": [{"t":0,"v":-1.91},{"t":5.2,"v":-1.89},{"t":7.3,"v":-1.72},{"t":10.3,"v":-1.4},{"t":13.3,"v":-0.91},{"t":16.3,"v":-0.34},{"t":19.3,"v":0.15},{"t":22.3,"v":0.64},{"t":25.3,"v":1},{"t":28.4,"v":1.3},{"t":31.4,"v":1.55},{"t":35,"v":1.74},{"t":40,"v":1.72},{"t":43.7,"v":1.5},{"t":48.6,"v":0.98},{"t":54,"v":0.25},{"t":60,"v":-0.42},{"t":63.8,"v":-0.79},{"t":66.6,"v":-0.98},{"t":73.1,"v":-0.98},{"t":76.4,"v":-0.66},{"t":80,"v":-0.25},{"t":84,"v":0.27},{"t":88.4,"v":0.74},{"t":91.7,"v":1},{"t":96.6,"v":1.06},{"t":100,"v":0.81},{"t":104.8,"v":0.32},{"t":109.7,"v":-0.17},{"t":114.6,"v":-0.59},{"t":117,"v":-0.66},{"t":120,"v":-0.66}],
"p8": [{"t":0,"v":0},{"t":11,"v":0.05},{"t":11.5,"v":0.15},{"t":20,"v":0.2},{"t":20.5,"v":0.4},{"t":35,"v":0.43},{"t":40,"v":0.25},{"t":50,"v":-0.37},{"t":60,"v":-0.98},{"t":68.7,"v":-1.6},{"t":76.4,"v":-2},{"t":80,"v":-2.2},{"t":90,"v":-2.8},{"t":100,"v":-3.25},{"t":103,"v":-3.55},{"t":111.3,"v":-3.75},{"t":120,"v":-3.75}]
},
"vconcat": [
{"width":1051,"height":54,"data":{"name":"p1"},
 "title":{"text":"4 HbO₂ signal and Components","font":"Liberation Sans","fontSize":16,"fontWeight":"normal","color":"#000000","anchor":"middle","baseline":"alphabetic","offset":-17},
 "layer":[
 {"mark":{"type":"line","interpolate":"step-after","color":"#0000ff","strokeWidth":1},
  "encoding":{"x":{"field":"t","type":"quantitative","scale":{"domain":[0,120],"nice":false},"axis":{"orient":"bottom","values":[0,20,40,60,80,100,120],"labels":false,"title":null}},
   "y":{"field":"v","type":"quantitative","scale":{"domain":[-10,10],"nice":false,"zero":false},"axis":{"orient":"left","values":[-10,0,10],"labelExpr":"'' + datum.value","title":null}}}},
 {"mark":{"type":"line","strokeOpacity":0},
  "encoding":{"x":{"field":"t","type":"quantitative","scale":{"domain":[0,120],"nice":false},"axis":{"orient":"top","values":[0,20,40,60,80,100,120],"labels":false,"title":null}},
   "y":{"field":"v","type":"quantitative","scale":{"domain":[-10,10],"nice":false,"zero":false},"axis":{"orient":"right","values":[-10,0,10],"labels":false,"title":null}}}}],
 "resolve":{"scale":{"x":"independent","y":"independent"}}},
{"width":1051,"height":54,"data":{"name":"p2"},
 "layer":[
 {"mark":{"type":"line","color":"#0000ff","strokeWidth":1},
  "encoding":{"x":{"field":"t","type":"quantitative","scale":{"domain":[0,120],"nice":false},"axis":{"orient":"bottom","values":[0,20,40,60,80,100,120],"labels":false,"title":null}},
   "y":{"field":"v","type":"quantitative","scale":{"domain":[-2,2],"nice":false,"zero":false},"axis":{"orient":"left","values":[-2,0,2],"labelExpr":"'' + datum.value","title":null}}}},
 {"mark":{"type":"line","strokeOpacity":0},
  "encoding":{"x":{"field":"t","type":"quantitative","scale":{"domain":[0,120],"nice":false},"axis":{"orient":"top","values":[0,20,40,60,80,100,120],"labels":false,"title":null}},
   "y":{"field":"v","type":"quantitative","scale":{"domain":[-2,2],"nice":false,"zero":false},"axis":{"orient":"right","values":[-2,0,2],"labels":false,"title":null}}}}],
 "resolve":{"scale":{"x":"independent","y":"independent"}}},
{"width":1051,"height":54,"data":{"name":"p3"},
 "layer":[
 {"mark":{"type":"line","interpolate":"monotone","color":"#0000ff","strokeWidth":1},
  "encoding":{"x":{"field":"t","type":"quantitative","scale":{"domain":[0,120],"nice":false},"axis":{"orient":"bottom","values":[0,20,40,60,80,100,120],"labels":false,"title":null}},
   "y":{"field":"v","type":"quantitative","scale":{"domain":[-5,5],"nice":false,"zero":false},"axis":{"orient":"left","values":[-5,0,5],"labelExpr":"'' + datum.value","title":null}}}},
 {"mark":{"type":"line","strokeOpacity":0},
  "encoding":{"x":{"field":"t","type":"quantitative","scale":{"domain":[0,120],"nice":false},"axis":{"orient":"top","values":[0,20,40,60,80,100,120],"labels":false,"title":null}},
   "y":{"field":"v","type":"quantitative","scale":{"domain":[-5,5],"nice":false,"zero":false},"axis":{"orient":"right","values":[-5,0,5],"labels":false,"title":null}}}}],
 "resolve":{"scale":{"x":"independent","y":"independent"}}},
{"width":1051,"height":54,"data":{"name":"p4"},
 "layer":[
 {"mark":{"type":"line","interpolate":"monotone","color":"#0000ff","strokeWidth":1},
  "encoding":{"x":{"field":"t","type":"quantitative","scale":{"domain":[0,120],"nice":false},"axis":{"orient":"bottom","values":[0,20,40,60,80,100,120],"labels":false,"title":null}},
   "y":{"field":"v","type":"quantitative","scale":{"domain":[-0.5,0.5],"nice":false,"zero":false},"axis":{"orient":"left","values":[-0.5,0,0.5],"labelExpr":"'' + datum.value","title":null}}}},
 {"mark":{"type":"line","strokeOpacity":0},
  "encoding":{"x":{"field":"t","type":"quantitative","scale":{"domain":[0,120],"nice":false},"axis":{"orient":"top","values":[0,20,40,60,80,100,120],"labels":false,"title":null}},
   "y":{"field":"v","type":"quantitative","scale":{"domain":[-0.5,0.5],"nice":false,"zero":false},"axis":{"orient":"right","values":[-0.5,0,0.5],"labels":false,"title":null}}}}],
 "resolve":{"scale":{"x":"independent","y":"independent"}}},
{"width":1051,"height":54,"data":{"name":"p5"},
 "layer":[
 {"mark":{"type":"line","interpolate":"monotone","color":"#0000ff","strokeWidth":1},
  "encoding":{"x":{"field":"t","type":"quantitative","scale":{"domain":[0,120],"nice":false},"axis":{"orient":"bottom","values":[0,20,40,60,80,100,120],"labels":false,"title":null}},
   "y":{"field":"v","type":"quantitative","scale":{"domain":[-5,5],"nice":false,"zero":false},"axis":{"orient":"left","values":[-5,0,5],"labelExpr":"'' + datum.value","title":"Amplitude (μM)","titleX":-42,"titleY":-22,"titleAngle":-90,"titleAlign":"center","titleBaseline":"bottom"}}}},
 {"mark":{"type":"line","strokeOpacity":0},
  "encoding":{"x":{"field":"t","type":"quantitative","scale":{"domain":[0,120],"nice":false},"axis":{"orient":"top","values":[0,20,40,60,80,100,120],"labels":false,"title":null}},
   "y":{"field":"v","type":"quantitative","scale":{"domain":[-5,5],"nice":false,"zero":false},"axis":{"orient":"right","values":[-5,0,5],"labels":false,"title":null}}}}],
 "resolve":{"scale":{"x":"independent","y":"independent"}}},
{"width":1051,"height":54,"data":{"name":"p6"},
 "layer":[
 {"mark":{"type":"line","interpolate":"monotone","color":"#0000ff","strokeWidth":1},
  "encoding":{"x":{"field":"t","type":"quantitative","scale":{"domain":[0,120],"nice":false},"axis":{"orient":"bottom","values":[0,20,40,60,80,100,120],"labels":false,"title":null}},
   "y":{"field":"v","type":"quantitative","scale":{"domain":[-5,5],"nice":false,"zero":false},"axis":{"orient":"left","values":[-5,0,5],"labelExpr":"'' + datum.value","title":null}}}},
 {"mark":{"type":"line","strokeOpacity":0},
  "encoding":{"x":{"field":"t","type":"quantitative","scale":{"domain":[0,120],"nice":false},"axis":{"orient":"top","values":[0,20,40,60,80,100,120],"labels":false,"title":null}},
   "y":{"field":"v","type":"quantitative","scale":{"domain":[-5,5],"nice":false,"zero":false},"axis":{"orient":"right","values":[-5,0,5],"labels":false,"title":null}}}}],
 "resolve":{"scale":{"x":"independent","y":"independent"}}},
{"width":1051,"height":54,"data":{"name":"p7"},
 "layer":[
 {"mark":{"type":"line","interpolate":"monotone","color":"#0000ff","strokeWidth":1},
  "encoding":{"x":{"field":"t","type":"quantitative","scale":{"domain":[0,120],"nice":false},"axis":{"orient":"bottom","values":[0,20,40,60,80,100,120],"labels":false,"title":null}},
   "y":{"field":"v","type":"quantitative","scale":{"domain":[-2,2],"nice":false,"zero":false},"axis":{"orient":"left","values":[-2,0,2],"labelExpr":"'' + datum.value","title":null}}}},
 {"mark":{"type":"line","strokeOpacity":0},
  "encoding":{"x":{"field":"t","type":"quantitative","scale":{"domain":[0,120],"nice":false},"axis":{"orient":"top","values":[0,20,40,60,80,100,120],"labels":false,"title":null}},
   "y":{"field":"v","type":"quantitative","scale":{"domain":[-2,2],"nice":false,"zero":false},"axis":{"orient":"right","values":[-2,0,2],"labels":false,"title":null}}}}],
 "resolve":{"scale":{"x":"independent","y":"independent"}}},
{"width":1051,"height":54,"data":{"name":"p8"},
 "layer":[
 {"mark":{"type":"line","interpolate":"monotone","color":"#0000ff","strokeWidth":1},
  "encoding":{"x":{"field":"t","type":"quantitative","scale":{"domain":[0,120],"nice":false},"axis":{"orient":"bottom","values":[0,20,40,60,80,100,120],"labels":true,"labelPadding":14,"title":"Time (s)","titlePadding":4}},
   "y":{"field":"v","type":"quantitative","scale":{"domain":[-5,5],"nice":false,"zero":false},"axis":{"orient":"left","values":[-5,0,5],"labelExpr":"'' + datum.value","title":null}}}},
 {"mark":{"type":"line","strokeOpacity":0},
  "encoding":{"x":{"field":"t","type":"quantitative","scale":{"domain":[0,120],"nice":false},"axis":{"orient":"top","values":[0,20,40,60,80,100,120],"labels":false,"title":null}},
   "y":{"field":"v","type":"quantitative","scale":{"domain":[-5,5],"nice":false,"zero":false},"axis":{"orient":"right","values":[-5,0,5],"labels":false,"title":null}}}}],
 "resolve":{"scale":{"x":"independent","y":"independent"}}}
]
}
